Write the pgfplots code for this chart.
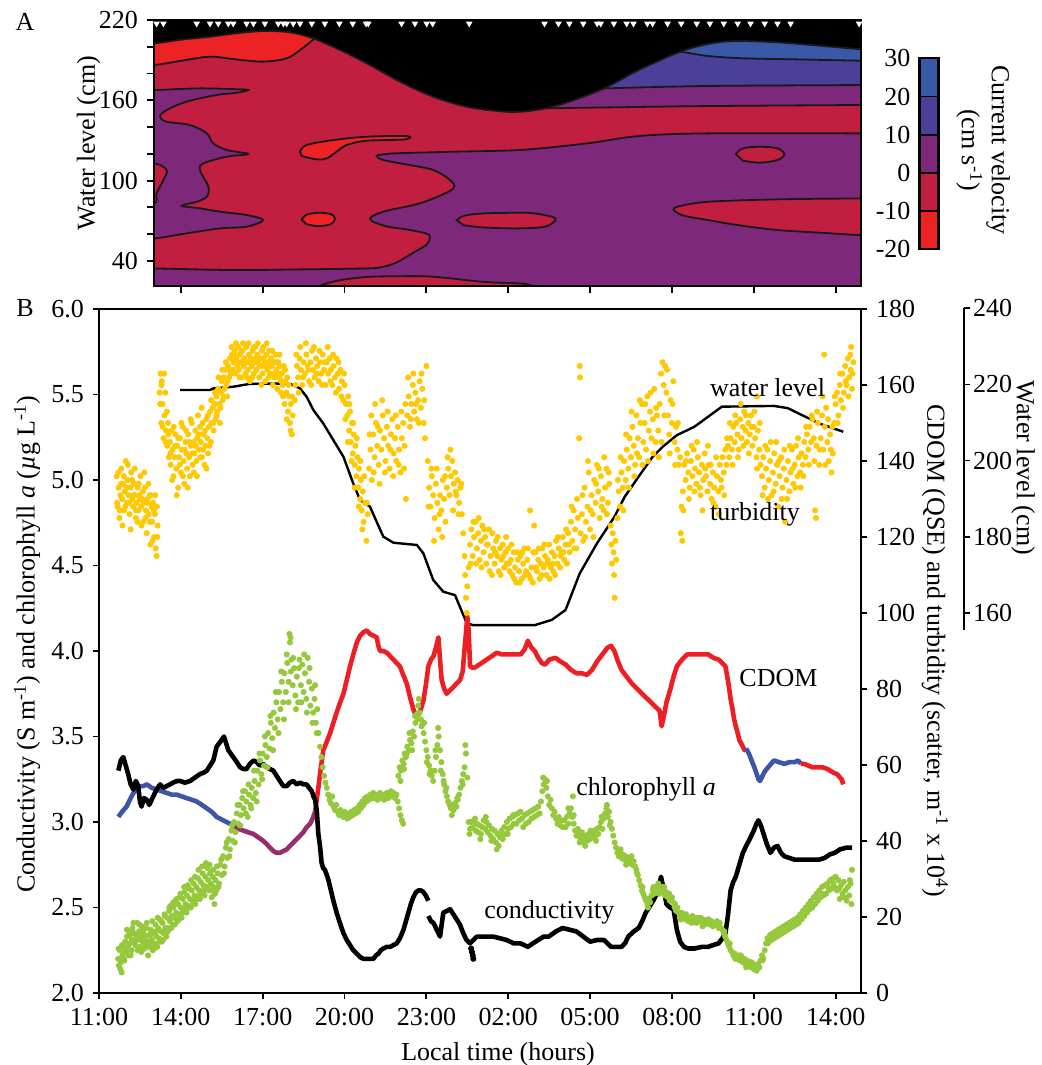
\documentclass[border=0pt]{standalone}
\usepackage{fontspec}
\setmainfont{Liberation Serif}
\usepackage{pgfplots}
\pgfplotsset{compat=1.18}
\definecolor{vBlue}{RGB}{57,88,167}
\definecolor{vIndigo}{RGB}{75,64,153}
\definecolor{vPurple}{RGB}{126,40,124}
\definecolor{vCrimson}{RGB}{193,30,64}
\definecolor{vRed}{RGB}{237,34,36}
\definecolor{turb}{RGB}{255,200,0}
\definecolor{chl}{RGB}{150,200,60}
\definecolor{cdomred}{RGB}{237,30,36}
\definecolor{cdomblue}{RGB}{60,85,165}
\definecolor{cdompurple}{RGB}{150,45,110}
\pgfplotsset{
  every axis/.append style={font=\fontsize{13}{15}\selectfont},
  contour/.style={draw=black!90, line width=0.9pt, smooth, tension=0.55},
  dots/.style={only marks, mark=*, mark size=1.3pt},
}
\begin{document}
\fontsize{13}{15}\selectfont
\begin{tikzpicture}
\path[use as bounding box] (0pt,0pt) rectangle (520.5pt,-532.5pt);

% ---------------- Panel A ----------------
\begin{axis}[
  at={(77pt,-10pt)}, anchor=north west, scale only axis,
  width=353.5pt, height=132.85pt,
  xmin=2.016, xmax=27.93, ymin=21.5, ymax=220,
  axis on top, axis background/.style={fill=vPurple},
  xtick={3,6,...,27}, xticklabels={},
  ytick={40,60,...,220}, yticklabels={40,,,100,,,160,,,220},
  tick align=outside, xtick pos=bottom, ytick pos=left, major tick length=3.5pt,
  axis line style={line width=1pt}, tick style={line width=0.9pt, black},
]
\addplot[contour, fill=vCrimson] coordinates {
(29,135.3)(27.93,135.3)(22.33,135.3)(19.78,133.3)(17.88,127.8)(15.5,123.0)(13.0,121.6)(11.0,120.5)(10.55,119.9)(10.18,118.6)(10.42,115.4)(11.40,111.6)(12.26,107.9)(12.87,100.4)(12.99,94.2)(12.26,86.7)(11.52,81.7)(10.42,76.8)(9.93,71.3)(10.5,66.0)(11.3,63.5)(12.0,60.5)(12.13,57.5)(12.0,52)(11.55,46.5)(10.9,38.8)(10.4,35.6)(9.8,34.4)(7.0,33.6)(4.9,33.2)(2.03,34.4)(1.0,34.6)
} -- (axis cs:1,232) -- (axis cs:29,232) -- cycle;
\addplot[contour, fill=vCrimson] coordinates {
(7.6,15)(8.1,21.5)(8.8,25.5)(9.81,28.0)(11,28.6)(12.26,28.2)(14.09,24.4)(15.43,23.2)(15.84,21.7)(16.3,18)
} -- cycle;
\addplot[contour, fill=vPurple] coordinates {
(1.0,167.7)(2.03,167.7)(3.70,168.9)(5.0,168.3)(5.47,167.7)(5.0,165.5)(4.31,164.0)(3.21,159.0)(2.48,152.7)(2.24,147.8)(2.48,144.0)(3.34,141.5)(3.95,135.3)(4.19,127.8)(4.68,122.9)(5.47,119.9)(4.68,117.9)(3.83,112.9)(3.70,107.9)(4.01,95.4)(3.95,88.0)(3.58,84.2)(3.03,81.2)(3.70,79.3)(4.44,76.8)(5.41,74.3)(6.02,70.5)(5.41,65.6)(4.44,64.3)(3.21,60.6)(2.03,56.8)(1.0,56.5)
} -- cycle;
\addplot[contour, fill=vCrimson] coordinates {
(1.0,112.9)(2.03,112.9)(2.48,107.9)(2.36,100.4)(2.11,90.5)(2.03,83.0)(1.0,83)
} -- cycle;
\addplot[contour, fill=vRed] coordinates {
(1.0,186.4)(2.03,186.4)(3.0,189.5)(4.07,192.6)(5.0,190.6)(6.02,188.9)(6.88,191.4)(7.37,197.6)(7.86,205.5)(8.2,212)
} -- (axis cs:8.2,232) -- (axis cs:1,232) -- cycle;
\addplot[contour, fill=vRed] coordinates {
(7.37,121.6)(7.61,126.6)(8.59,130.3)(9.81,132.8)(11.28,133.3)(11.22,130.8)(9.81,129.8)(9.08,126.6)(8.71,121.6)(8.35,116.6)(7.98,115.9)(7.43,118.4)
} -- cycle;
\addplot[contour, fill=vRed] coordinates {
(7.43,71)(7.6,74.5)(8.04,76)(8.5,75)(8.65,71.5)(8.5,67.5)(8.04,66)(7.6,67.5)
} -- cycle;
\addplot[contour, fill=vCrimson] coordinates {
(13.11,70.5)(13.4,73.8)(14.09,75.5)(15.43,76.0)(15.97,75.5)(16.6,73)(16.73,70.5)(16.35,65.6)(15.34,64.3)(14.09,65.0)(13.35,66.8)
} -- cycle;
\addplot[contour, fill=vCrimson] coordinates {
(29,86.8)(27.93,86.7)(24.87,86.0)(22.33,84.2)(21.3,81.0)(21.06,78.5)(21.4,74.0)(22.33,70.5)(23.5,66.5)(24.87,63.1)(26.5,61.0)(27.93,59.3)(29,59.2)
} -- cycle;
\addplot[contour, fill=vCrimson] coordinates {
(23.34,119.9)(23.6,124.1)(24.23,125.3)(24.87,124.1)(25.12,119.6)(24.87,115.4)(24.23,113.4)(23.6,114.9)
} -- cycle;
\addplot[contour, fill=vPurple] coordinates {
(15.8,153.5)(16.35,154.0)(19.0,154.8)(22.33,155.7)(27.93,156.5)(29,156.5)
} -- (axis cs:29,232) -- (axis cs:15.8,232) -- cycle;
\addplot[contour, fill=vIndigo] coordinates {
(18.0,168.5)(18.51,168.9)(22.33,170.7)(27.93,171.4)(29,171.4)
} -- (axis cs:29,232) -- (axis cs:18,232) -- cycle;
\addplot[contour, fill=vBlue] coordinates {
(21.0,196)(21.31,196.3)(22.33,193.1)(23.6,191.4)(25.5,190.6)(27.93,189.6)(29,189.5)
} -- (axis cs:29,232) -- (axis cs:21,232) -- cycle;
\addplot[contour, fill=black] coordinates {
(1.0,202.3)(2.03,202.6)(3.0,205.3)(4.07,207.5)(5.0,210.0)(6.03,211.8)(7.0,210.8)(7.85,206.3)(8.84,197.6)(9.82,187.6)(11.04,173.9)(12.25,162.7)(13.48,155.2)(14.7,151.8)(15.46,151.5)(16.35,154.0)(17.24,159.0)(18.51,168.9)(19.78,182.6)(21.31,196.3)(22.33,202.1)(23.34,204.3)(24.87,203.3)(26.14,201.3)(27.93,198.2)(29,197.5)
} -- (axis cs:29,232) -- (axis cs:1,232) -- cycle;
\addplot[only marks, mark=triangle*, mark size=1.5pt, mark options={fill=white, draw=white, rotate=180}] coordinates {
(2.11,217.3)(2.36,217.3)(3.58,217.3)(4.07,217.3)(4.37,217.3)(4.74,217.3)(4.92,217.3)(5.41,217.3)(5.66,217.3)(6.08,217.3)(6.57,217.3)(6.76,217.3)(6.88,217.3)(7.12,217.3)(7.37,217.3)(7.80,217.3)(8.28,217.3)(8.81,217.3)(9.30,217.3)(9.79,217.3)(9.87,217.3)(11.09,217.3)(11.58,217.3)(12.01,217.3)(12.23,217.3)(13.57,217.3)(16.33,217.3)(16.84,217.3)(17.24,217.3)(17.75,217.3)(18.26,217.3)(18.39,217.3)(18.87,217.3)(19.34,217.3)(19.59,217.3)(20.10,217.3)(20.29,217.3)(20.84,217.3)(21.34,217.3)(21.91,217.3)(22.39,217.3)(22.90,217.3)(23.41,217.3)(23.88,217.3)(24.40,217.3)(24.87,217.3)(25.35,217.3)(27.86,217.3)
};
\end{axis}

% ---------------- Colour bar ----------------
\begin{axis}[
  at={(459.75pt,-29.15pt)}, anchor=north west, scale only axis,
  width=9.55pt, height=95.5pt, xmin=0, xmax=1, ymin=-20, ymax=30,
  xtick=\empty, ytick={-20,-10,0,10,20,30}, yticklabels={-20,-10,0,10,20,30},
  ytick pos=left, major tick length=0pt, tick style={draw=none},
  axis on top, axis line style={line width=1.2pt},
]
\addplot[fill=vRed, draw=black, line width=0.9pt] coordinates {(0,-20)(1,-20)(1,-10)(0,-10)} -- cycle;
\addplot[fill=vCrimson, draw=black, line width=0.9pt] coordinates {(0,-10)(1,-10)(1,0)(0,0)} -- cycle;
\addplot[fill=vPurple, draw=black, line width=0.9pt] coordinates {(0,0)(1,0)(1,10)(0,10)} -- cycle;
\addplot[fill=vIndigo, draw=black, line width=0.9pt] coordinates {(0,10)(1,10)(1,20)(0,20)} -- cycle;
\addplot[fill=vBlue, draw=black, line width=0.9pt] coordinates {(0,20)(1,20)(1,30)(0,30)} -- cycle;
\end{axis}

% ---------------- Panel B ----------------
\begin{axis}[
  at={(49.5pt,-154.5pt)}, anchor=north west, scale only axis,
  width=381pt, height=342pt,
  xmin=0, xmax=27.93, ymin=2, ymax=6,
  xtick={0,3,6,9,12,15,18,21,24,27},
  xticklabels={11:00,14:00,17:00,20:00,23:00,02:00,05:00,08:00,11:00,14:00},
  ytick={2,2.5,3,3.5,4,4.5,5,5.5,6},
  yticklabels={2.0,2.5,3.0,3.5,4.0,4.5,5.0,5.5,6.0},
  xtick pos=bottom, ytick pos=left, tick align=outside, major tick length=3pt,
  axis line style={line width=1pt}, tick style={line width=0.9pt, black},
]
% turbidity (right axis units)
\addplot[dots, color=turb, y filter/.expression={y/45+2}] coordinates {
(0.65,136)(0.68,128)(0.72,133)(0.75,125)(0.78,131)(0.82,138)(0.85,130)(0.88,134)(0.92,127)(0.95,132)(0.98,140)(1.02,129)(1.05,135)(1.08,131)(1.12,126)(1.15,133)(1.18,137)(1.22,130)(1.25,128)(1.28,134)(1.32,131)(1.35,125)(1.38,129)(1.42,133)(1.45,127)(1.48,131)(1.52,136)(1.55,128)(1.58,130)(1.62,124)(1.65,129)(1.68,133)(1.72,127)(1.75,121)(1.78,130)(1.82,126)(1.85,131)(1.88,118)(1.92,128)(1.95,124)(1.98,129)(2.02,120)(2.05,126)(2.08,117)(2.12,128)(2.15,123)
(2.22,158)(2.25,163)(2.28,150)(2.3,161)(2.33,155)(2.36,146)(2.4,152)(2.43,158)(2.46,148)(2.5,144)(2.53,150)(2.56,141)
(2.6,145)(2.63,139)(2.67,148)(2.7,143)(2.73,136)(2.77,141)(2.8,147)(2.83,138)(2.87,144)(2.9,133)(2.93,141)(2.97,146)(3.0,137)(3.03,143)(3.07,149)(3.1,140)(3.13,134)(3.17,145)(3.2,142)(3.23,138)(3.27,147)(3.3,141)(3.33,136)(3.37,144)(3.4,150)(3.43,139)(3.47,145)(3.5,142)(3.53,148)(3.57,140)(3.6,146)(3.63,152)(3.67,143)(3.7,149)(3.73,145)(3.77,141)(3.8,150)(3.83,147)(3.87,139)(3.9,144)(3.93,151)(3.97,146)(4.0,142)(4.03,149)(4.07,153)(4.1,145)(4.13,150)
(4.17,154)(4.2,148)(4.23,155)(4.27,151)(4.3,157)(4.33,153)(4.37,159)(4.4,155)(4.43,150)(4.47,158)(4.5,161)(4.53,156)(4.57,162)(4.6,159)(4.63,164)(4.67,160)(4.7,157)(4.73,165)(4.77,162)(4.8,167)(4.83,163)(4.87,168)(4.9,164)
(4.93,166)(4.97,169)(5.0,163)(5.03,167)(5.07,165)(5.1,170)(5.13,164)(5.17,168)(5.2,166)(5.23,162)(5.27,169)(5.3,165)(5.33,167)(5.37,163)(5.4,170)(5.43,166)(5.47,164)(5.5,168)(5.53,161)(5.57,167)(5.6,165)(5.63,169)(5.67,163)(5.7,166)(5.73,170)(5.77,164)(5.8,168)(5.83,166)(5.87,162)(5.9,167)(5.93,165)(5.97,169)(6.0,163)(6.03,167)(6.07,165)(6.1,161)(6.13,168)(6.17,164)(6.2,166)(6.23,169)(6.27,163)(6.3,167)(6.33,165)(6.37,160)(6.4,166)(6.43,163)(6.47,168)(6.5,164)(6.53,159)(6.57,166)(6.6,162)(6.63,165)(6.67,158)(6.7,163)(6.73,160)(6.77,165)(6.8,155)(6.83,161)(6.87,158)(6.9,162)(6.93,153)(6.97,157)(7.0,150)(7.03,155)(7.07,147)(7.1,152)
(7.2,160)(7.25,165)(7.3,162)(7.35,167)(7.4,164)(7.45,160)(7.5,166)(7.55,163)(7.6,168)(7.65,165)(7.7,161)(7.75,166)(7.8,169)(7.85,164)(7.9,162)(7.95,167)(8.0,165)(8.05,161)(8.1,166)(8.15,163)(8.2,168)(8.25,164)(8.3,160)(8.35,166)(8.4,163)(8.45,167)(8.5,164)(8.55,160)(8.6,165)(8.65,162)(8.7,167)(8.75,163)(8.8,159)(8.85,164)(8.9,161)(8.95,156)(9.0,160)(9.05,155)
(9.1,152)(9.13,157)(9.17,148)(9.2,153)(9.23,145)(9.27,150)(9.3,142)(9.33,147)(9.37,139)(9.4,144)(9.43,136)(9.47,141)(9.5,133)(9.53,138)(9.57,130)(9.6,135)(9.63,127)(9.67,132)(9.7,124)(9.75,129)(9.8,119)(9.85,126)
(9.9,138)(9.95,143)(10.0,135)(10.05,147)(10.1,141)(10.15,150)(10.2,144)(10.25,139)(10.3,148)(10.35,143)(10.4,152)(10.45,146)(10.5,140)(10.55,149)(10.6,144)(10.65,138)(10.7,147)(10.75,151)(10.8,142)(10.85,146)(10.9,140)(10.95,149)(11.0,143)(11.05,137)(11.1,146)(11.15,150)(11.2,144)(11.25,130)
(11.3,152)(11.35,157)(11.4,149)(11.45,155)(11.5,160)(11.55,153)(11.6,158)(11.65,151)(11.7,156)(11.75,161)(11.8,154)(11.85,159)(11.9,150)(11.95,146)(12.0,165)
(12.05,140)(12.1,133)(12.15,128)(12.2,136)(12.25,131)(12.3,125)(12.35,134)(12.4,129)(12.45,122)(12.5,131)(12.55,127)(12.6,135)(12.65,130)(12.7,124)(12.75,133)(12.8,138)(12.85,131)(12.9,136)(12.95,140)(13.0,134)(13.05,137)(13.1,131)(13.15,135)(13.2,129)(13.25,133)(13.3,126)
(13.35,121)(13.4,115)(13.42,110)(13.45,104)(13.48,100)(13.5,107)(13.55,112)
(13.6,118)(13.65,122)(13.7,115)(13.75,120)(13.8,124)(13.85,117)(13.9,121)(13.95,114)(14.0,119)(14.05,123)(14.1,116)(14.15,120)(14.2,113)(14.25,118)(14.3,122)(14.35,115)(14.4,110)(14.45,117)(14.5,113)(14.55,119)(14.6,115)(14.65,111)(14.7,117)(14.75,114)(14.8,118)(14.85,112)(14.9,116)(14.95,113)
(15.0,117)(15.05,111)(15.1,114)(15.15,110)(15.2,116)(15.25,112)(15.3,108)(15.35,114)(15.4,111)(15.45,115)(15.5,109)(15.55,113)(15.6,117)(15.65,111)(15.7,114)(15.75,110)(15.8,127)(15.85,112)(15.9,108)(15.95,123)(16.0,116)(16.05,111)(16.1,114)(16.15,109)(16.2,113)(16.25,117)(16.3,112)(16.35,115)(16.4,110)(16.45,114)(16.5,118)(16.55,112)(16.6,116)(16.65,111)(16.7,115)(16.75,119)(16.8,113)(16.85,117)(16.9,112)(16.95,116)(17.0,120)(17.05,114)(17.1,118)(17.15,113)
(17.2,121)(17.25,116)(17.3,124)(17.35,119)(17.4,127)(17.45,122)(17.5,117)(17.55,125)(17.6,146)(17.62,165)(17.63,162)(17.65,121)(17.7,126)(17.75,119)(17.8,133)(17.85,124)(17.9,128)(17.95,137)(18.0,122)(18.05,131)(18.1,126)(18.15,135)(18.2,129)(18.25,139)(18.3,132)(18.35,125)(18.4,136)(18.45,130)(18.5,127)(18.55,133)(18.6,138)(18.65,129)(18.7,134)
(18.75,123)(18.78,118)(18.8,113)(18.83,121)(18.86,116)(18.88,110)(18.9,104)(18.93,119)(18.96,114)
(19.0,125)(19.05,132)(19.1,128)(19.15,137)(19.2,133)(19.25,140)(19.3,135)(19.35,143)(19.4,138)(19.45,146)(19.5,141)(19.55,149)(19.6,144)(19.65,139)(19.7,152)(19.75,146)(19.8,141)(19.85,150)(19.9,155)(19.95,145)(20.0,150)(20.05,143)(20.1,157)(20.15,148)(20.2,153)(20.25,146)(20.3,151)(20.35,159)(20.4,145)(20.45,152)(20.5,148)(20.55,155)
(20.6,163)(20.65,166)(20.7,160)(20.75,165)(20.8,158)(20.85,152)(20.9,147)(20.95,156)(21.0,150)(21.05,161)(21.1,145)(21.15,149)(21.2,143)(21.25,139)
(21.3,141)(21.32,121)(21.35,128)(21.38,119)(21.4,132)(21.45,139)(21.5,135)(21.55,142)(21.6,137)(21.65,133)(21.7,140)(21.75,136)(21.8,143)(21.85,138)(21.9,134)(21.95,141)(22.0,137)(22.05,131)(22.1,139)(22.15,135)(22.2,142)(22.25,136)(22.3,132)(22.35,139)(22.4,134)(22.45,130)(22.5,137)(22.55,133)(22.6,128)(22.65,136)(22.7,132)(22.75,139)(22.8,135)(22.85,141)(22.9,137)(22.95,143)(23.0,139)(23.05,144)
(23.1,141)(23.15,146)(23.2,143)(23.25,149)(23.3,145)(23.35,150)(23.4,147)(23.45,143)(23.5,151)(23.55,146)(23.6,149)(23.65,153)(23.7,148)(23.75,145)(23.8,150)(23.85,147)(23.9,152)(23.95,144)(24.0,149)(24.05,146)(24.1,141)(24.12,157)(24.15,148)(24.2,143)(24.25,139)
(24.3,136)(24.35,141)(24.4,133)(24.45,138)(24.5,143)(24.55,135)(24.6,140)(24.65,131)(24.7,137)(24.75,142)(24.8,134)(24.85,139)(24.9,128)(24.95,136)(25.0,141)(25.05,133)(25.1,138)(25.15,124)(25.2,135)(25.25,140)(25.3,132)(25.35,137)(25.4,143)(25.45,134)(25.5,139)(25.55,144)(25.6,136)(25.65,141)(25.7,137)(25.75,142)(25.8,139)(25.85,145)
(25.9,141)(25.95,147)(26.0,143)(26.05,149)(26.1,145)(26.15,151)(26.2,146)(26.25,127)(26.28,125)(26.3,144)(26.35,150)(26.4,139)(26.45,146)(26.5,152)(26.55,143)(26.58,168)(26.6,149)(26.65,154)(26.7,145)(26.75,140)(26.8,147)(26.85,137)(26.9,142)
(26.95,150)(27.0,155)(27.05,158)(27.1,152)(27.15,160)(27.2,156)(27.25,163)(27.3,158)(27.35,165)(27.4,160)(27.45,167)(27.5,162)(27.54,168)(27.55,164)(27.6,159)(27.65,166)
};
\addplot[dots, color=turb, y filter/.expression={y/45+2}] coordinates {
(0.66,129)(0.71,137)(0.76,127)(0.81,134)(0.86,123)(0.91,136)(0.96,128)(1.01,133)(1.06,139)(1.11,129)(1.16,122)(1.21,135)(1.26,131)(1.31,138)(1.36,127)(1.41,124)(1.46,134)(1.51,130)(1.56,123)(1.61,132)(1.66,137)(1.71,125)(1.76,129)(1.81,134)(1.86,124)(1.91,131)(1.96,119)(2.01,127)(2.06,131)(2.11,115)(2.14,120)
(2.24,155)(2.29,160)(2.34,149)(2.39,163)(2.44,145)(2.49,153)(2.54,147)
(2.62,142)(2.68,135)(2.74,149)(2.79,144)(2.85,131)(2.91,146)(2.96,139)(3.02,150)(3.08,136)(3.14,143)(3.19,148)(3.25,133)(3.31,145)(3.36,151)(3.42,142)(3.48,137)(3.54,144)(3.59,136)(3.65,147)(3.71,141)(3.76,154)(3.82,143)(3.88,148)(3.94,138)(3.99,152)(4.05,144)(4.11,156)
(4.19,150)(4.25,158)(4.31,152)(4.38,162)(4.45,154)(4.52,164)(4.58,157)(4.65,166)(4.72,161)(4.79,164)(4.86,170)
(4.95,168)(5.02,171)(5.08,166)(5.15,162)(5.22,169)(5.28,171)(5.35,166)(5.42,162)(5.48,171)(5.55,166)(5.62,162)(5.68,170)(5.75,167)(5.82,171)(5.88,165)(5.95,160)(6.02,170)(6.08,166)(6.15,171)(6.22,162)(6.28,165)(6.35,169)(6.42,162)(6.48,166)(6.55,163)(6.62,168)(6.68,161)(6.75,157)(6.82,164)(6.88,151)(6.95,160)(7.02,148)(7.08,157)
(7.17,156)(7.23,168)(7.32,158)(7.38,170)(7.48,162)(7.58,171)(7.68,164)(7.78,160)(7.88,170)(7.98,163)(8.08,169)(8.18,160)(8.28,166)(8.38,170)(8.48,161)(8.58,168)(8.68,158)(8.78,166)(8.88,157)(8.98,163)(9.03,151)
(9.12,145)(9.18,155)(9.25,140)(9.32,150)(9.38,133)(9.45,146)(9.52,128)(9.58,140)(9.65,122)(9.72,136)(9.82,129)
(9.92,147)(9.98,152)(10.07,137)(10.12,155)(10.22,149)(10.28,134)(10.38,156)(10.48,137)(10.58,153)(10.68,143)(10.78,136)(10.88,152)(10.98,139)(11.08,153)(11.18,138)(11.23,155)
(11.33,162)(11.43,151)(11.52,163)(11.62,155)(11.72,150)(11.82,163)(11.92,156)
(12.08,128)(12.18,138)(12.28,119)(12.38,138)(12.48,126)(12.58,120)(12.68,136)(12.78,141)(12.88,143)(12.98,127)(13.08,132)(13.18,126)(13.28,134)
(13.62,113)(13.72,124)(13.82,113)(13.92,125)(14.02,112)(14.12,122)(14.22,118)(14.32,111)(14.42,121)(14.52,116)(14.62,120)(14.72,110)(14.82,115)(14.92,120)
(15.02,113)(15.12,118)(15.22,109)(15.32,116)(15.42,108)(15.52,116)(15.62,110)(15.72,117)(15.82,109)(15.92,116)(16.02,112)(16.12,117)(16.22,110)(16.32,118)(16.42,113)(16.52,109)(16.62,113)(16.72,110)(16.82,120)(16.92,115)(17.02,116)(17.12,122)
(17.22,118)(17.32,128)(17.42,117)(17.52,130)(17.72,131)(17.82,120)(17.92,140)(18.02,127)(18.12,120)(18.22,134)(18.32,138)(18.42,128)(18.52,141)(18.62,126)(18.68,137)
(19.02,135)(19.12,141)(19.22,127)(19.32,147)(19.42,133)(19.52,153)(19.62,136)(19.72,142)(19.82,156)(19.92,139)(20.02,155)(20.12,140)(20.22,158)(20.32,142)(20.42,154)(20.52,141)
(20.62,145)(20.72,152)(20.82,164)(20.92,142)(21.02,155)(21.12,139)(21.22,150)
(21.42,127)(21.52,140)(21.62,130)(21.72,144)(21.82,132)(21.92,145)(22.02,133)(22.12,127)(22.22,138)(22.32,144)(22.42,139)(22.52,129)(22.62,141)(22.72,126)(22.82,133)(22.92,131)(23.02,146)
(23.12,150)(23.22,139)(23.32,152)(23.42,141)(23.52,155)(23.62,144)(23.72,152)(23.82,142)(23.92,149)(24.02,153)(24.12,138)(24.22,150)
(24.32,131)(24.42,144)(24.52,130)(24.62,145)(24.72,132)(24.82,145)(24.92,140)(25.02,130)(25.12,143)(25.22,130)(25.32,144)(25.42,138)(25.52,133)(25.62,146)(25.72,133)(25.82,136)
(25.92,149)(26.02,139)(26.12,152)(26.22,140)(26.32,153)(26.42,143)(26.52,157)(26.62,139)(26.72,151)(26.82,143)(26.88,149)
(26.97,157)(27.07,150)(27.17,163)(27.27,154)(27.37,161)(27.47,157)(27.57,170)(27.62,163)
};
% water level (cm)
\addplot[black, line width=1.2pt, y filter/.expression={(y-60)/45+2}] coordinates {
(2.97,218.7)(4.07,218.7)(4.19,219.1)(4.92,219.55)(5.53,220.3)(6.39,220.4)(7.0,220.3)(7.37,219.1)(7.61,216.9)(7.86,213.4)(8.22,209.9)(8.59,205.5)(8.96,201.1)(9.32,194.1)(9.57,189.7)(9.93,188.0)(10.42,180.1)(10.79,178.5)(11.65,177.9)(11.89,175.7)(12.25,168.7)(12.62,165.6)(13.05,164.7)(13.48,157.3)(13.72,156.8)(15.97,156.8)(16.6,158.2)(17.1,160.8)(17.62,170.4)(18.25,178.3)(18.89,185.3)(19.27,190.6)(19.78,195.9)(20.29,201.1)(20.67,203.8)(21.18,206.8)(21.82,209.0)(22.83,214.3)(24.74,214.5)(25.25,213.9)(26.39,209.9)(27.28,207.7)
};
% chlorophyll a
\addplot[dots, color=chl] coordinates {
(0.7,2.2)(0.73,2.16)(0.76,2.25)(0.8,2.18)(0.83,2.12)(0.86,2.22)(0.9,2.27)(0.93,2.19)(0.96,2.3)(1.0,2.24)(1.03,2.33)(1.06,2.27)(1.1,2.36)(1.13,2.29)(1.16,2.22)(1.2,2.31)(1.23,2.38)(1.26,2.3)(1.3,2.35)
(1.33,2.28)(1.37,2.34)(1.4,2.41)(1.43,2.31)(1.47,2.36)(1.5,2.27)(1.53,2.33)(1.57,2.39)(1.6,2.3)(1.63,2.35)(1.67,2.26)(1.7,2.32)(1.73,2.38)(1.77,2.3)(1.8,2.22)(1.83,2.34)(1.87,2.28)(1.9,2.37)(1.93,2.31)(1.97,2.25)(2.0,2.35)(2.03,2.29)(2.07,2.4)(2.1,2.33)(2.13,2.27)(2.17,2.38)(2.2,2.32)(2.23,2.43)(2.27,2.36)(2.3,2.3)(2.33,2.41)(2.37,2.35)(2.4,2.46)(2.43,2.38)(2.47,2.33)
(2.5,2.44)(2.53,2.38)(2.57,2.48)(2.6,2.42)(2.63,2.51)(2.67,2.45)(2.7,2.4)(2.73,2.5)(2.77,2.44)(2.8,2.54)(2.83,2.47)(2.87,2.42)(2.9,2.52)(2.93,2.46)(2.97,2.56)(3.0,2.5)(3.03,2.44)(3.07,2.55)(3.1,2.49)(3.13,2.59)(3.17,2.52)(3.2,2.47)(3.23,2.57)(3.27,2.51)(3.3,2.61)(3.33,2.55)(3.37,2.5)(3.4,2.6)(3.43,2.54)(3.47,2.64)(3.5,2.57)(3.53,2.52)(3.57,2.62)(3.6,2.56)(3.63,2.67)(3.67,2.6)(3.7,2.55)(3.73,2.65)(3.77,2.59)(3.8,2.7)(3.83,2.63)(3.87,2.57)(3.9,2.68)(3.93,2.62)(3.97,2.73)(4.0,2.66)(4.03,2.6)(4.07,2.7)(4.1,2.64)(4.13,2.56)(4.17,2.68)(4.2,2.62)(4.23,2.52)(4.27,2.66)(4.3,2.6)
(4.35,2.7)(4.4,2.64)(4.45,2.75)(4.5,2.69)(4.55,2.8)(4.6,2.74)(4.65,2.85)(4.7,2.79)(4.75,2.9)(4.8,2.84)(4.85,2.95)(4.9,2.89)(4.95,3.0)(5.0,2.94)
(5.05,3.05)(5.1,2.99)(5.15,3.1)(5.2,3.04)(5.25,3.14)(5.3,3.08)(5.35,3.18)(5.4,3.12)(5.45,3.03)(5.5,3.16)(5.55,3.1)(5.6,3.2)(5.65,3.14)(5.7,3.24)(5.75,3.17)(5.8,3.3)(5.85,3.22)(5.9,3.36)(5.95,3.28)(6.0,3.4)
(6.05,3.33)(6.1,3.45)(6.15,3.38)(6.2,3.52)(6.25,3.43)(6.3,3.58)(6.35,3.49)(6.4,3.64)(6.45,3.55)(6.5,3.7)(6.55,3.6)(6.6,3.76)(6.65,3.66)(6.7,3.82)(6.75,3.7)(6.8,3.87)(6.85,3.76)(6.9,3.93)(6.95,3.82)(7.0,4.05)(6.98,4.1)(7.03,3.88)(7.05,3.95)
(7.1,3.8)(7.15,3.9)(7.2,3.74)(7.25,3.85)(7.3,3.7)(7.35,3.95)(7.4,3.8)(7.45,3.92)(7.5,3.76)(7.55,3.87)(7.6,3.72)(7.65,3.96)(7.7,3.82)(7.75,3.68)(7.8,3.78)(7.85,3.64)(7.9,3.72)(7.95,3.58)(8.0,3.66)
(8.05,3.52)(8.1,3.44)(8.15,3.38)(8.2,3.32)(8.25,3.27)(8.3,3.23)(8.35,3.2)(8.4,3.16)(8.45,3.13)(8.5,3.11)(8.55,3.15)(8.6,3.09)(8.65,3.07)(8.7,3.1)(8.75,3.06)(8.8,3.04)(8.85,3.07)(8.9,3.05)(8.95,3.03)(9.0,3.06)
(9.05,3.04)(9.1,3.02)(9.15,3.05)(9.2,3.03)(9.25,3.06)(9.3,3.04)(9.35,3.07)(9.4,3.05)(9.45,3.08)(9.5,3.06)(9.55,3.1)(9.6,3.08)(9.65,3.12)(9.7,3.1)(9.75,3.14)(9.8,3.12)(9.85,3.15)(9.9,3.13)(9.95,3.16)(10.0,3.14)
(10.05,3.17)(10.1,3.14)(10.15,3.16)(10.2,3.13)(10.25,3.15)(10.3,3.17)(10.35,3.14)(10.4,3.16)(10.45,3.13)(10.5,3.15)(10.55,3.17)(10.6,3.14)(10.65,3.16)(10.7,3.18)(10.75,3.15)(10.8,3.17)(10.85,3.14)(10.9,3.16)(10.95,3.12)(11.0,3.08)(11.05,3.04)(11.1,3.01)(11.15,2.99)
(10.97,3.27)(11.02,3.32)(11.07,3.3)(11.12,3.36)(11.17,3.34)(11.2,3.4)(11.25,3.38)(11.3,3.44)(11.35,3.42)(11.4,3.48)(11.45,3.46)(11.5,3.53)(11.55,3.5)(11.6,3.58)(11.65,3.63)(11.7,3.68)(11.75,3.64)(11.8,3.6)(11.85,3.57)(11.9,3.52)(11.95,3.47)(12.0,3.42)(12.05,3.38)(12.1,3.33)(12.15,3.3)(12.2,3.27)(12.25,3.24)
(12.3,3.3)(12.35,3.38)(12.4,3.45)(12.45,3.5)(12.5,3.42)(12.55,3.35)(12.6,3.28)(12.65,3.22)(12.7,3.18)(12.75,3.15)(12.8,3.12)(12.85,3.1)(12.9,3.08)(12.95,3.1)(13.0,3.07)(13.05,3.11)(13.1,3.09)(13.15,3.13)(13.2,3.16)(13.25,3.2)(13.3,3.24)(13.35,3.28)(13.4,3.32)(13.45,3.4)(13.5,3.26)
(13.55,3.0)(13.6,2.96)(13.65,3.0)(13.7,2.97)(13.75,3.01)(13.8,2.95)(13.85,2.99)(13.9,2.94)(13.95,2.98)(14.0,2.93)(14.05,2.97)(14.1,3.01)(14.15,2.96)(14.2,3.0)(14.25,2.94)(14.3,2.98)(14.35,2.92)(14.4,2.96)(14.45,2.9)(14.5,2.95)(14.55,2.88)(14.6,2.93)(14.65,2.86)(14.7,2.91)(14.75,2.95)(14.8,2.9)(14.85,2.97)(14.9,2.93)(14.95,3.0)(15.0,2.96)(15.05,3.02)(15.1,2.97)(15.15,3.03)(15.2,2.99)
(15.25,3.04)(15.3,2.99)(15.35,3.05)(15.4,3.01)(15.45,3.06)(15.5,3.02)(15.55,2.97)(15.6,3.04)(15.65,2.99)(15.7,3.05)(15.75,3.0)(15.8,3.06)(15.85,3.02)(15.9,3.07)(15.95,3.03)(16.0,3.08)(16.05,3.04)(16.1,3.09)(16.15,3.05)(16.2,3.12)(16.25,3.18)(16.3,3.22)(16.35,3.25)(16.4,3.2)(16.45,3.15)(16.5,3.1)(16.55,3.13)(16.6,3.08)(16.65,3.04)(16.7,3.06)(16.75,3.02)(16.8,2.99)(16.85,3.03)(16.9,2.98)(16.95,3.01)(17.0,2.97)
(17.05,3.01)(17.1,2.97)(17.15,3.03)(17.2,2.99)(17.25,3.05)(17.3,3.08)(17.37,3.15)(17.35,3.03)(17.4,2.99)(17.45,2.95)(17.5,2.92)(17.55,2.96)(17.6,2.93)(17.65,2.9)(17.7,2.94)(17.75,2.91)(17.8,2.88)(17.85,2.92)(17.9,2.89)(17.95,2.93)(18.0,2.9)(18.05,2.94)(18.1,2.91)(18.15,2.95)(18.2,2.92)(18.25,2.96)(18.3,2.93)(18.35,2.97)(18.4,3.0)(18.45,2.96)(18.5,3.02)(18.55,3.05)(18.6,3.08)(18.65,3.03)(18.7,3.06)(18.75,3.0)(18.8,2.96)(18.85,2.92)(18.9,2.88)(18.95,2.85)
(19.0,2.82)(19.05,2.8)(19.1,2.82)(19.15,2.79)(19.2,2.81)(19.25,2.78)(19.3,2.8)(19.35,2.77)(19.4,2.79)(19.45,2.76)(19.5,2.78)(19.55,2.75)(19.6,2.77)(19.65,2.74)(19.7,2.72)(19.75,2.69)(19.8,2.66)(19.85,2.63)(19.9,2.6)(19.95,2.58)(20.0,2.56)(20.05,2.54)(20.1,2.52)(20.15,2.55)(20.2,2.53)(20.25,2.57)(20.3,2.6)(20.35,2.58)(20.4,2.62)(20.45,2.6)(20.5,2.64)(20.55,2.61)(20.6,2.59)(20.65,2.62)(20.7,2.6)(20.75,2.57)(20.8,2.59)(20.85,2.56)(20.9,2.58)(20.95,2.55)
(21.0,2.56)(21.05,2.53)(21.1,2.5)(21.15,2.48)(21.2,2.5)(21.25,2.47)(21.3,2.45)(21.35,2.47)(21.4,2.44)(21.45,2.46)(21.5,2.43)(21.55,2.45)(21.6,2.42)(21.65,2.44)(21.7,2.43)(21.75,2.45)(21.8,2.42)(21.85,2.44)(21.9,2.41)(21.95,2.43)(22.0,2.42)(22.05,2.44)(22.1,2.41)(22.15,2.43)(22.2,2.4)(22.25,2.42)(22.3,2.41)(22.35,2.43)(22.4,2.4)(22.45,2.42)(22.5,2.39)(22.55,2.41)(22.6,2.4)(22.65,2.42)(22.7,2.39)(22.75,2.41)(22.8,2.38)(22.85,2.37)(22.9,2.35)(22.95,2.33)
(23.0,2.31)(23.05,2.29)(23.1,2.27)(23.15,2.25)(23.2,2.24)(23.25,2.22)(23.3,2.23)(23.35,2.21)(23.4,2.2)(23.45,2.22)(23.5,2.19)(23.55,2.21)(23.6,2.18)(23.65,2.2)(23.7,2.17)(23.75,2.19)(23.8,2.16)(23.85,2.18)(23.9,2.15)(23.95,2.17)(24.0,2.14)(24.05,2.16)(24.1,2.13)(24.15,2.17)(24.2,2.15)(24.25,2.19)(24.3,2.22)(24.35,2.2)(24.4,2.25)
(24.45,2.29)(24.5,2.32)(24.55,2.3)(24.6,2.34)(24.65,2.31)(24.7,2.35)(24.75,2.32)(24.8,2.36)(24.85,2.33)(24.9,2.37)(24.95,2.34)(25.0,2.38)(25.05,2.35)(25.1,2.39)(25.15,2.36)(25.2,2.4)(25.25,2.37)(25.3,2.41)(25.35,2.38)(25.4,2.42)(25.45,2.39)(25.5,2.43)(25.55,2.4)(25.6,2.44)(25.65,2.41)(25.7,2.46)(25.75,2.43)(25.8,2.48)(25.85,2.45)(25.9,2.5)(25.95,2.47)(26.0,2.52)(26.05,2.49)(26.1,2.54)(26.15,2.5)(26.2,2.56)(26.25,2.52)(26.3,2.58)(26.35,2.54)(26.4,2.6)(26.45,2.56)(26.5,2.62)(26.55,2.57)(26.6,2.63)(26.65,2.58)(26.7,2.64)(26.75,2.6)(26.8,2.66)(26.85,2.61)(26.9,2.67)(26.95,2.62)(27.0,2.68)(27.05,2.6)(27.1,2.66)(27.15,2.55)(27.2,2.63)(27.25,2.58)(27.3,2.65)(27.35,2.6)(27.4,2.54)(27.45,2.62)(27.5,2.57)(27.55,2.64)(27.6,2.72)
};
\addplot[dots, color=chl] coordinates {
(0.72,2.26)(0.78,2.14)(0.84,2.28)(0.9,2.2)(0.96,2.24)(1.02,2.37)(1.08,2.22)(1.14,2.34)(1.2,2.25)(1.26,2.41)
(1.35,2.32)(1.42,2.25)(1.48,2.4)(1.55,2.24)(1.62,2.37)(1.68,2.29)(1.75,2.41)(1.82,2.27)(1.88,2.34)(1.95,2.42)(2.02,2.26)(2.08,2.36)(2.15,2.44)(2.22,2.3)(2.28,2.42)(2.35,2.31)(2.42,2.45)
(2.52,2.36)(2.58,2.5)(2.65,2.38)(2.72,2.53)(2.78,2.4)(2.85,2.55)(2.92,2.43)(2.98,2.58)(3.05,2.47)(3.12,2.62)(3.18,2.48)(3.25,2.63)(3.32,2.5)(3.38,2.66)(3.45,2.53)(3.52,2.68)(3.58,2.55)(3.65,2.72)(3.72,2.58)(3.78,2.74)(3.85,2.6)(3.92,2.76)(3.98,2.62)(4.05,2.75)(4.12,2.6)(4.18,2.72)(4.25,2.58)(4.32,2.74)
(4.38,2.62)(4.48,2.78)(4.58,2.7)(4.68,2.88)(4.78,2.8)(4.88,2.98)(4.98,2.88)
(5.08,3.1)(5.18,2.98)(5.28,3.18)(5.38,3.05)(5.48,3.22)(5.58,3.08)(5.68,3.3)(5.78,3.12)(5.88,3.4)(5.98,3.25)
(6.08,3.5)(6.18,3.32)(6.28,3.62)(6.38,3.42)(6.48,3.76)(6.58,3.52)(6.68,3.88)(6.78,3.6)(6.88,3.98)(6.95,3.7)(7.02,4.08)
(7.12,3.96)(7.22,3.66)(7.32,3.9)(7.42,3.7)(7.52,3.98)(7.62,3.64)(7.72,3.9)(7.82,3.58)(7.92,3.8)(7.98,3.52)
(11.05,3.24)(11.18,3.31)(11.28,3.4)(11.38,3.52)(11.48,3.42)(11.58,3.62)(11.68,3.6)(11.72,3.72)(11.82,3.56)(11.92,3.58)(12.02,3.35)(12.12,3.28)
(12.33,3.42)(12.43,3.55)(12.53,3.3)(12.63,3.24)(12.73,3.2)(12.93,3.04)(13.13,3.14)(13.33,3.22)(13.43,3.45)
(13.58,2.93)(13.78,3.02)(13.98,2.9)(14.18,3.03)(14.38,2.89)(14.58,2.84)(14.78,2.92)(14.98,2.93)(15.18,3.04)
(16.28,3.26)(16.42,3.24)(17.2,3.08)(17.4,3.04)(17.62,2.88)(17.82,2.86)(18.02,2.95)(18.22,2.89)(18.42,3.03)(18.62,3.1)(18.72,2.98)
(19.12,2.84)(19.32,2.75)(19.52,2.8)(19.72,2.7)(19.92,2.62)(20.12,2.5)(20.32,2.62)(20.52,2.58)(20.72,2.62)(20.92,2.54)
(21.12,2.52)(21.32,2.43)(21.52,2.46)(21.72,2.41)(21.92,2.44)(22.12,2.39)(22.32,2.43)(22.52,2.41)(22.72,2.38)(22.92,2.36)
(23.12,2.29)(23.32,2.2)(23.52,2.22)(23.72,2.15)(23.92,2.18)(24.12,2.14)(24.32,2.19)
(24.52,2.29)(24.72,2.33)(24.92,2.35)(25.12,2.37)(25.32,2.39)(25.52,2.41)(25.72,2.44)(25.92,2.47)(26.12,2.51)(26.32,2.55)(26.52,2.58)(26.72,2.62)(26.92,2.64)(27.12,2.61)(27.32,2.56)(27.52,2.66)(27.58,2.52)
};
% CDOM segments
\addplot[cdomblue, line width=2.3pt, line join=round] coordinates {
(0.71,3.03)(0.8,3.05)(0.9,3.07)(1.01,3.09)(1.13,3.13)(1.26,3.17)(1.38,3.19)(1.5,3.21)(1.62,3.21)(1.75,3.22)(1.93,3.20)(2.11,3.19)(2.3,3.18)(2.48,3.17)(2.67,3.16)(2.85,3.16)(3.03,3.15)(3.21,3.14)(3.4,3.13)(3.58,3.12)(3.77,3.10)(3.95,3.08)(4.13,3.06)(4.31,3.03)(4.55,3.01)(4.80,2.99)(4.92,2.98)
};
\addplot[cdompurple, line width=2.3pt, line join=round] coordinates {
(4.92,2.98)(5.1,2.96)(5.29,2.95)(5.47,2.94)(5.66,2.93)(5.84,2.91)(6.02,2.89)(6.15,2.87)(6.27,2.85)(6.39,2.83)(6.51,2.82)(6.63,2.82)(6.76,2.83)(6.88,2.84)(7.0,2.86)(7.12,2.88)(7.25,2.90)(7.37,2.92)(7.49,2.94)(7.61,2.97)(7.74,2.99)(7.83,3.02)(7.92,3.06)
};
\addplot[cdomred, line width=2.3pt, line join=round] coordinates {
(7.92,3.06)(7.98,3.13)(8.04,3.2)(8.10,3.28)(8.16,3.35)(8.22,3.42)(8.35,3.47)(8.47,3.52)(8.59,3.58)(8.71,3.64)(8.84,3.70)(8.96,3.75)(9.08,3.83)(9.20,3.91)(9.32,3.98)(9.45,4.05)(9.57,4.09)(9.69,4.11)(9.81,4.12)(9.93,4.10)(10.05,4.09)(10.18,4.08)(10.24,4.03)(10.30,4.00)(10.42,4.0)(10.55,3.99)(10.67,3.97)(10.79,3.95)(10.91,3.93)(11.03,3.91)(11.15,3.86)(11.28,3.81)(11.4,3.73)(11.52,3.66)(11.62,3.62)(11.71,3.63)(11.80,3.66)(11.89,3.71)(11.98,3.80)(12.07,3.91)(12.17,3.95)(12.26,3.97)(12.35,4.02)(12.44,4.08)(12.5,3.95)(12.56,3.83)(12.65,3.78)(12.74,3.75)(12.87,3.77)(12.99,3.79)(13.11,3.81)(13.23,3.83)(13.33,3.88)(13.42,4.05)(13.5,4.20)(13.55,4.12)(13.60,3.91)(13.72,3.90)(13.84,3.91)(14.03,3.93)(14.21,3.95)(14.4,3.97)(14.58,3.99)(14.76,3.98)(14.94,3.98)(15.2,3.98)(15.46,3.98)(15.6,4.01)(15.72,4.06)(15.85,4.02)(15.97,4.0)(16.1,3.96)(16.23,3.93)(16.35,3.92)(16.5,3.95)(16.73,3.96)(16.9,3.94)(17.11,3.92)(17.3,3.89)(17.50,3.87)(17.7,3.87)(17.88,3.86)(18.07,3.89)(18.26,3.94)(18.45,3.98)(18.64,4.02)(18.77,4.03)(18.89,4.0)(19.02,3.94)(19.15,3.89)(19.34,3.85)(19.53,3.81)(19.72,3.78)(19.91,3.75)(20.1,3.72)(20.29,3.69)(20.42,3.67)(20.55,3.65)(20.62,3.56)(20.68,3.60)(20.8,3.70)(20.93,3.77)(21.06,3.85)(21.18,3.91)(21.37,3.95)(21.56,3.98)(21.75,3.98)(21.94,3.98)(22.14,3.98)(22.33,3.98)(22.52,3.96)(22.71,3.95)(22.84,3.93)(22.96,3.91)(23.03,3.85)(23.09,3.79)(23.15,3.72)(23.22,3.66)(23.28,3.60)(23.34,3.56)(23.41,3.52)(23.47,3.48)(23.57,3.45)(23.66,3.42)(23.72,3.43)
};
\addplot[cdomblue, line width=2.3pt, line join=round] coordinates {
(23.72,3.43)(23.82,3.40)(23.92,3.36)(24.02,3.32)(24.11,3.28)(24.17,3.25)(24.23,3.24)(24.32,3.27)(24.42,3.30)(24.58,3.33)(24.74,3.36)(24.93,3.35)(25.12,3.34)(25.31,3.35)(25.50,3.35)(25.63,3.36)(25.72,3.34)
};
\addplot[cdomred, line width=2.3pt, line join=round] coordinates {
(25.72,3.34)(25.85,3.34)(26.0,3.33)(26.14,3.32)(26.33,3.32)(26.52,3.32)(26.7,3.31)(26.90,3.29)(27.05,3.28)(27.22,3.25)(27.28,3.22)
};
% conductivity
\addplot[black, line width=2.3pt, line join=round] coordinates {
(0.71,3.30)(0.8,3.36)(0.89,3.38)(0.98,3.33)(1.07,3.28)(1.16,3.22)(1.26,3.19)(1.35,3.24)(1.44,3.21)(1.5,3.12)(1.56,3.09)(1.65,3.14)(1.75,3.13)(1.84,3.10)(1.93,3.13)(2.02,3.16)(2.11,3.19)(2.24,3.22)(2.36,3.20)(2.48,3.21)(2.6,3.22)(2.72,3.23)(2.85,3.24)(2.97,3.24)(3.15,3.23)(3.34,3.24)(3.52,3.26)(3.70,3.28)(3.85,3.29)(3.95,3.30)(4.07,3.33)(4.19,3.36)(4.31,3.44)(4.45,3.47)(4.58,3.50)(4.66,3.46)(4.74,3.42)(4.83,3.40)(4.92,3.38)(5.05,3.35)(5.17,3.32)(5.29,3.31)(5.41,3.31)(5.53,3.34)(5.66,3.36)(5.78,3.35)(5.90,3.33)(6.02,3.34)(6.15,3.32)(6.27,3.31)(6.39,3.30)(6.51,3.27)(6.63,3.24)(6.76,3.21)(6.88,3.21)(7.0,3.23)(7.12,3.24)(7.25,3.22)(7.37,3.23)(7.49,3.22)(7.61,3.22)(7.70,3.20)(7.80,3.18)(7.86,3.15)(7.92,3.13)(7.98,3.07)(8.04,2.93)(8.10,2.86)(8.16,2.76)(8.22,2.73)(8.28,2.72)(8.35,2.69)(8.41,2.66)(8.5,2.60)(8.59,2.54)(8.71,2.47)(8.83,2.41)(8.96,2.35)(9.08,2.31)(9.2,2.28)(9.32,2.25)(9.45,2.23)(9.57,2.21)(9.69,2.20)(9.81,2.20)(9.93,2.20)(10.06,2.20)(10.15,2.22)(10.24,2.23)(10.33,2.25)(10.42,2.26)(10.55,2.27)(10.67,2.27)(10.79,2.28)(10.91,2.29)(11.03,2.32)(11.16,2.37)(11.25,2.42)(11.34,2.47)(11.43,2.52)(11.52,2.56)(11.62,2.59)(11.71,2.60)(11.80,2.60)(11.89,2.59)(11.98,2.57)(12.07,2.54)
};
\addplot[black, line width=2.3pt, line join=round] coordinates {
(12.07,2.45)(12.17,2.42)(12.26,2.41)(12.38,2.37)(12.50,2.33)(12.56,2.40)(12.62,2.47)(12.75,2.48)(12.87,2.49)(12.99,2.46)(13.11,2.43)(13.23,2.40)(13.35,2.35)(13.47,2.31)(13.6,2.29)(13.72,2.31)(13.85,2.33)(13.97,2.33)(14.2,2.33)(14.45,2.33)(14.7,2.32)(14.94,2.31)(15.21,2.29)(15.45,2.29)(15.72,2.27)(15.9,2.29)(16.10,2.31)(16.3,2.33)(16.48,2.33)(16.75,2.36)(16.99,2.38)(17.25,2.37)(17.50,2.36)(17.75,2.33)(18.0,2.30)(18.25,2.31)(18.51,2.31)(18.64,2.29)(18.77,2.27)(18.95,2.27)(19.15,2.27)(19.28,2.29)(19.40,2.33)(19.6,2.36)(19.78,2.38)(19.91,2.42)(20.04,2.47)(20.2,2.51)(20.35,2.55)(20.5,2.60)(20.6,2.68)(20.68,2.62)(20.8,2.52)(20.93,2.50)(21.06,2.49)(21.12,2.43)(21.18,2.37)(21.3,2.30)(21.44,2.27)(21.6,2.26)(21.82,2.26)(22.1,2.27)(22.33,2.27)(22.5,2.28)(22.71,2.29)(22.85,2.32)(22.96,2.35)(23.05,2.45)(23.15,2.60)(23.25,2.65)(23.34,2.68)(23.47,2.75)(23.60,2.82)(23.72,2.86)(23.85,2.90)(24.0,2.95)(24.1,2.99)(24.17,3.01)(24.26,2.98)(24.36,2.93)(24.48,2.87)(24.61,2.82)(24.74,2.85)(24.87,2.86)(25.0,2.82)(25.12,2.80)(25.3,2.79)(25.5,2.78)(25.75,2.78)(26.01,2.78)(26.2,2.78)(26.39,2.78)(26.6,2.79)(26.78,2.81)(26.97,2.82)(27.16,2.84)(27.4,2.85)(27.6,2.85)
};
\addplot[dots, black] coordinates {(13.64,2.26)(13.67,2.24)(13.70,2.22)(13.72,2.20)};
\end{axis}

% right axis: CDOM / turbidity
\begin{axis}[
  at={(49.5pt,-154.5pt)}, anchor=north west, scale only axis,
  width=381pt, height=342pt, xmin=0, xmax=1, ymin=0, ymax=180,
  axis x line=none, axis y line*=right,
  ytick={0,20,40,60,80,100,120,140,160,180},
  yticklabels={0,20,40,60,80,100,120,140,160,180},
  tick align=outside, major tick length=3pt,
  axis line style={line width=1pt}, tick style={line width=0.9pt, black},
]
\end{axis}

% water level axis
\begin{axis}[
  at={(482pt,-154.15pt)}, anchor=north east, scale only axis,
  width=1pt, height=160.85pt, xmin=0, xmax=1, ymin=155.5, ymax=240,
  axis x line=none, axis y line*=right,
  ytick={160,180,200,220,240}, yticklabels={160,180,200,220,240},
  yticklabel style={xshift=-3pt},
  tick align=outside, major tick length=3pt,
  axis line style={line width=1pt}, tick style={line width=0.9pt, black},
]
\end{axis}

% labels
\node at (12.5pt,-11pt) {A};
\node at (12.5pt,-154pt) {B};
\node[rotate=90] at (44.25pt,-71.5pt) {Water level (cm)};
\node[rotate=-90, align=center] at (491.5pt,-75pt) {Current velocity\\(cm s\textsuperscript{-1})};
\node[rotate=90] at (13.5pt,-322pt) {Conductivity (S m\textsuperscript{-1}) and chlorophyll \textit{a} (\textit{µ}g L\textsuperscript{-1})};
\node[rotate=-90] at (467.5pt,-325.5pt) {CDOM (QSE) and turbidity (scatter, m\textsuperscript{-1} x 10\textsuperscript{4})};
\node[rotate=-90, inner sep=0pt] at (511.5pt,-234pt) {Water level (cm)};
\node[anchor=base] at (249pt,-530pt) {Local time (hours)};
\node[anchor=base west, inner sep=0pt] at (354.9pt,-198.3pt) {water level};
\node[anchor=base west, inner sep=0pt] at (354.9pt,-260pt) {turbidity};
\node[anchor=base west, inner sep=0pt] at (369.5pt,-343pt) {CDOM};
\node[anchor=base west, inner sep=0pt] at (288pt,-397.5pt) {chlorophyll \textit{a}};
\node[anchor=base west, inner sep=0pt] at (242pt,-459pt) {conductivity};
\end{tikzpicture}
\end{document}
